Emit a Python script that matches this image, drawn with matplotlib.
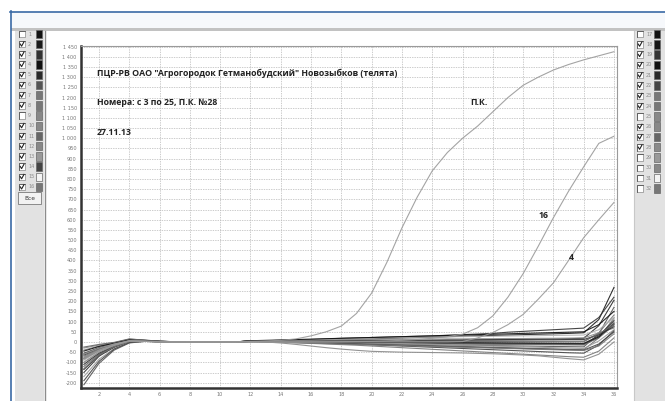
import matplotlib
matplotlib.use('Agg')
import matplotlib.pyplot as plt
from matplotlib.patches import Rectangle
from matplotlib.lines import Line2D

# canvas size in pixels (dpi 100)
W, H = 665, 401

cycles = list(range(1, 37))

# fluorescence per cycle, one list per tube
tube_28 = [-60, -30, -10, 5, 3, 0, 0, 0, 0, 0, 0, 2, 5, 8, 15, 30, 50, 78, 140, 240,
           390, 560, 710, 840, 930, 1000, 1060, 1130, 1200, 1260, 1300, 1335, 1362, 1385, 1405, 1425]
tube_16 = [-80, -40, -15, 5, 3, 0, 0, 0, 0, 0, 0, 0, 0, 0, 0, 0, 0, 1, 2, 3,
           5, 8, 12, 18, 26, 38, 70, 128, 220, 335, 470, 610, 740, 860, 975, 1010]
tube_4 = [-100, -50, -18, 4, 3, 0, 0, 0, 0, 0, 0, 0, 0, 0, 0, 0, 0, 0, 0, 0,
          0, 0, 0, 0, 0, 2, 20, 46, 85, 135, 210, 290, 400, 512, 600, 685]
tube_02 = [-80, -40, -12, 8, 5, 2, 0, 0, 0, 0, 0, 3, 4, 5, 6, 8, 10, 12, 14, 16,
           18, 20, 22, 24, 26, 28, 30, 32, 34, 36, 38, 40, 42, 45, 110, 268]
tube_03 = [-150, -70, -25, 5, 6, 2, 1, 0, 0, 0, 0, 4, 6, 8, 10, 12, 15, 18, 20, 22,
           24, 26, 28, 30, 33, 36, 39, 42, 48, 52, 56, 60, 64, 68, 120, 220]
tube_05 = [-60, -30, -8, 10, 6, 3, 1, 0, 0, 0, 0, 2, 3, 3, 4, 5, 5, 6, 6, 7,
           7, 8, 8, 9, 10, 10, 11, 12, 12, 13, 14, 15, 16, 18, 80, 205]
tube_06 = [-210, -105, -40, -5, 3, 2, 0, 0, 0, 0, 0, 5, 5, 4, 3, 2, 0, -2, -4, -6,
           -8, -10, -12, -14, -15, -16, -17, -18, -19, -20, -21, -22, -23, -24, 40, 170]
tube_07 = [-40, -20, -5, 12, 8, 4, 1, 0, 0, 0, 0, 6, 6, 6, 6, 6, 5, 5, 5, 4,
           4, 4, 3, 3, 3, 2, 2, 2, 2, 1, 1, 1, 0, 0, 45, 132]
tube_08 = [-100, -50, -18, 6, 5, 2, 0, 0, 0, 0, 0, 3, 2, 1, 0, -2, -4, -6, -8, -10,
           -12, -14, -16, -18, -20, -22, -24, -26, -28, -30, -32, -34, -36, -38, 20, 117]
tube_10 = [-75, -38, -12, 8, 5, 2, 0, 0, 0, 0, 0, 2, 1, 0, -1, -2, -3, -4, -5, -6,
           -7, -8, -9, -10, -10, -11, -11, -12, -12, -13, -13, -14, -14, -15, 25, 98]
tube_11 = [-120, -60, -22, 4, 4, 1, 0, 0, 0, 0, 0, 4, 4, 3, 2, 1, 0, -1, -2, -3,
           -4, -5, -6, -7, -8, -9, -10, -10, -11, -11, -12, -12, -13, -13, 20, 83]
tube_12 = [-30, -15, -4, 14, 9, 4, 1, 0, 0, 0, 0, 5, 6, 7, 8, 9, 10, 11, 12, 12,
           13, 13, 14, 14, 15, 15, 16, 16, 17, 17, 18, 18, 19, 20, 45, 68]
tube_13 = [-170, -85, -32, -2, 3, 1, 0, 0, 0, 0, 0, 6, 5, 4, 3, 2, 1, 0, -2, -4,
           -6, -8, -10, -12, -14, -16, -18, -20, -22, -24, -26, -28, -30, -32, 5, 60]
tube_14 = [-55, -28, -8, 10, 7, 3, 1, 0, 0, 0, 0, 3, 2, 0, -2, -4, -6, -8, -10, -12,
           -14, -16, -18, -20, -22, -24, -26, -28, -30, -32, -34, -36, -38, -40, -10, 49]
tube_15 = [-90, -45, -15, 6, 5, 2, 0, 0, 0, 0, 0, 4, 5, 6, 8, 10, 12, 14, 16, 18,
           20, 22, 23, 24, 25, 26, 27, 28, 29, 30, 31, 32, 33, 34, 60, 120]
tube_18 = [-135, -65, -25, 3, 4, 1, 0, 0, 0, 0, 0, 5, 4, 3, 2, 1, 0, 0, -1, -1,
           -2, -2, -3, -3, -4, -4, -5, -5, -6, -6, -7, -7, -8, -8, 25, 90]
tube_19 = [-65, -33, -10, 8, 6, 2, 0, 0, 0, 0, 0, 2, 2, 2, 3, 3, 4, 4, 5, 5,
           6, 6, 7, 7, 8, 8, 9, 9, 10, 10, 11, 11, 12, 12, 35, 75]
tube_20 = [-45, -22, -6, 12, 8, 3, 1, 0, 0, 0, 0, 6, 8, 10, 12, 14, 16, 18, 20, 22,
           24, 26, 28, 30, 32, 34, 36, 38, 40, 42, 44, 46, 48, 50, 85, 150]
tube_21 = [-110, -55, -20, 5, 4, 1, 0, 0, 0, 0, 0, 3, 3, 2, 2, 1, 1, 0, 0, -1,
           -1, -2, -2, -3, -3, -4, -4, -5, -5, -6, -6, -7, -7, -8, 30, 105]
tube_22 = [-190, -95, -35, -3, 3, 1, 0, 0, 0, 0, 0, 5, 3, 1, -1, -3, -5, -8, -11, -14,
           -17, -20, -23, -26, -29, -32, -35, -38, -41, -44, -47, -50, -53, -55, -15, 55]
tube_23 = [-70, -35, -10, 7, 5, 2, 0, 0, 0, 0, 0, 2, 0, -2, -4, -6, -8, -10, -12, -14,
           -16, -18, -20, -22, -24, -26, -28, -30, -32, -34, -36, -38, -40, -42, -20, 40]
tube_24 = [-130, -65, -24, 2, 4, 1, 0, 0, 0, 0, 0, 3, 1, -1, -4, -7, -10, -13, -16, -20,
           -24, -28, -32, -36, -40, -44, -48, -52, -56, -60, -64, -68, -72, -75, -45, 20]
tube_26 = [-85, -42, -14, 6, 5, 2, 0, 0, 0, 0, 0, 2, 0, -5, -12, -20, -28, -35, -41, -46,
           -48, -50, -51, -52, -53, -54, -56, -58, -61, -64, -68, -75, -82, -88, -60, 0]
tube_27 = [-25, -12, -2, 15, 9, 4, 1, 0, 0, 0, 0, 4, 4, 4, 4, 4, 4, 4, 4, 4,
           4, 4, 4, 4, 4, 4, 4, 4, 4, 4, 4, 4, 4, 4, 40, 85]

curves = {2: tube_02, 3: tube_03, 5: tube_05, 6: tube_06, 7: tube_07, 8: tube_08,
          10: tube_10, 11: tube_11, 12: tube_12, 13: tube_13, 14: tube_14, 15: tube_15,
          18: tube_18, 19: tube_19, 20: tube_20, 21: tube_21, 22: tube_22, 23: tube_23,
          24: tube_24, 26: tube_26, 27: tube_27, 4: tube_4, 16: tube_16, 28: tube_28}

# tube colours (swatches) and check state for the side lists
swatch = ['#111111', '#1a1a1a', '#333333', '#111111', '#2a2a2a', '#555555', '#777777', '#777777',
          '#888888', '#888888', '#666666', '#888888', '#999999', '#444444', '#f4f4f4', '#777777',
          '#111111', '#151515', '#333333', '#111111', '#2a2a2a', '#444444', '#777777', '#777777',
          '#888888', '#888888', '#666666', '#8a8a8a', '#999999', '#888888', '#f4f4f4', '#777777']
checked = [n for n in range(1, 33) if n not in (1, 9, 17, 25, 29, 30, 31, 32)]

yticks = list(range(-200, 1451, 50))
xticks = list(range(2, 37, 2))

fig = plt.figure(figsize=(W / 100, H / 100), dpi=100)
fig.patch.set_facecolor('white')


def rect(x0, y0, x1, y1, fc, ec='none', lw=0.0, z=0):
    r = Rectangle((x0 / W, 1 - y1 / H), (x1 - x0) / W, (y1 - y0) / H, transform=fig.transFigure,
                  facecolor=fc, edgecolor=ec, linewidth=lw, zorder=z)
    fig.patches.append(r)


def seg(xs, ys, color, lw, z=3):
    fig.lines.append(Line2D([x / W for x in xs], [1 - y / H for y in ys],
                            transform=fig.transFigure, color=color, linewidth=lw, zorder=z))


# window frame
rect(11, 12, W, 28, '#f6f8fb')
seg([10, W], [11.5, 11.5], '#3a6aa5', 1.2)
seg([10.5, 10.5], [11, H], '#3a6aa5', 1.2)
rect(11, 28, W, 31, '#c2c2c2')
rect(15, 31, 44, H, '#e2e2e2')
seg([44.5, 44.5], [31, H], '#8c8c8c', 1.0)
rect(634, 31, W, H, '#e2e2e2')
seg([634, 634], [31, H], '#c8c8c8', 0.8)


def tube_list(x0, first, y0, dy):
    for i in range(16):
        n = first + i
        y = y0 + i * dy
        rect(x0, y - 3.2, x0 + 6, y + 3.2, 'white', '#8a8a8a', 0.5, 2)
        seg([x0, x0, x0 + 6], [y + 3.2, y - 3.2, y - 3.2], '#555555', 0.6)
        if n in checked:
            seg([x0 + 1.2, x0 + 2.6, x0 + 5], [y - 0.2, y + 2, y - 2.4], '#222222', 0.8)
        fig.text((x0 + 9) / W, 1 - y / H, str(n), fontsize=3.5, color='#8a8a8a',
                 va='center', ha='left')
        rect(x0 + 17, y - 4.2, x0 + 22.5, y + 4.2, swatch[n - 1], '#666666', 0.5, 2)


tube_list(19, 1, 34, 10.2)
tube_list(637, 17, 34, 10.3)

# "Все" button
rect(18, 192, 41, 204, '#f2f2f2', '#7a7a7a', 0.6, 2)
fig.text(29.5 / W, 1 - 198 / H, 'Все', fontsize=4.2, color='#333333', ha='center', va='center')

# amplification plot
ax = fig.add_axes([81 / W, 1 - 388 / H, (617 - 81) / W, (388 - 46) / H])
ax.set_facecolor('white')

labelled = (4, 16, 28)
for n, vals in curves.items():
    col = swatch[n - 1]
    if n == 15:
        col = '#b0b0b0'
    if n in labelled:
        col = '#9a9a9a'
    ax.plot(cycles, vals, color=col, linewidth=0.8, alpha=0.9)

ax.set_xlim(0.81, 36.2)
ax.set_ylim(-226, 1453)
ax.set_xticks(xticks)
ax.set_yticks(yticks)
ax.set_yticklabels([f'{v:,}'.replace(',', ' ') for v in yticks])
ax.tick_params(length=0, labelsize=3.6, labelcolor='#777777', pad=3)
ax.grid(True, color='#b8b8b8', linewidth=0.5, linestyle=(0, (2, 1.5)))
ax.set_axisbelow(True)
for side in ('top', 'right'):
    ax.spines[side].set_color('#9a9a9a')
    ax.spines[side].set_linewidth(0.8)
for side in ('left', 'bottom'):
    ax.spines[side].set_color('#333333')
    ax.spines[side].set_linewidth(1.8)

tfont = dict(fontsize=6.3, fontweight='bold', color='#222222', family='Open Sans', va='center')
ax.text(1.87, 1320, 'ПЦР-РВ ОАО "Агрогородок Гетманобудский" Новозыбков (телята)', **tfont)
ax.text(1.87, 1175, 'Номера: с 3 по 25, П.К. №28', **tfont)
ax.text(1.87, 1030, '27.11.13', **tfont)
ax.text(26.5, 1175, 'П.К.', **tfont)
ax.text(31.0, 619, '16', **tfont)
ax.text(33.0, 417, '4', **tfont)

fig.savefig('out.png', dpi=100)
